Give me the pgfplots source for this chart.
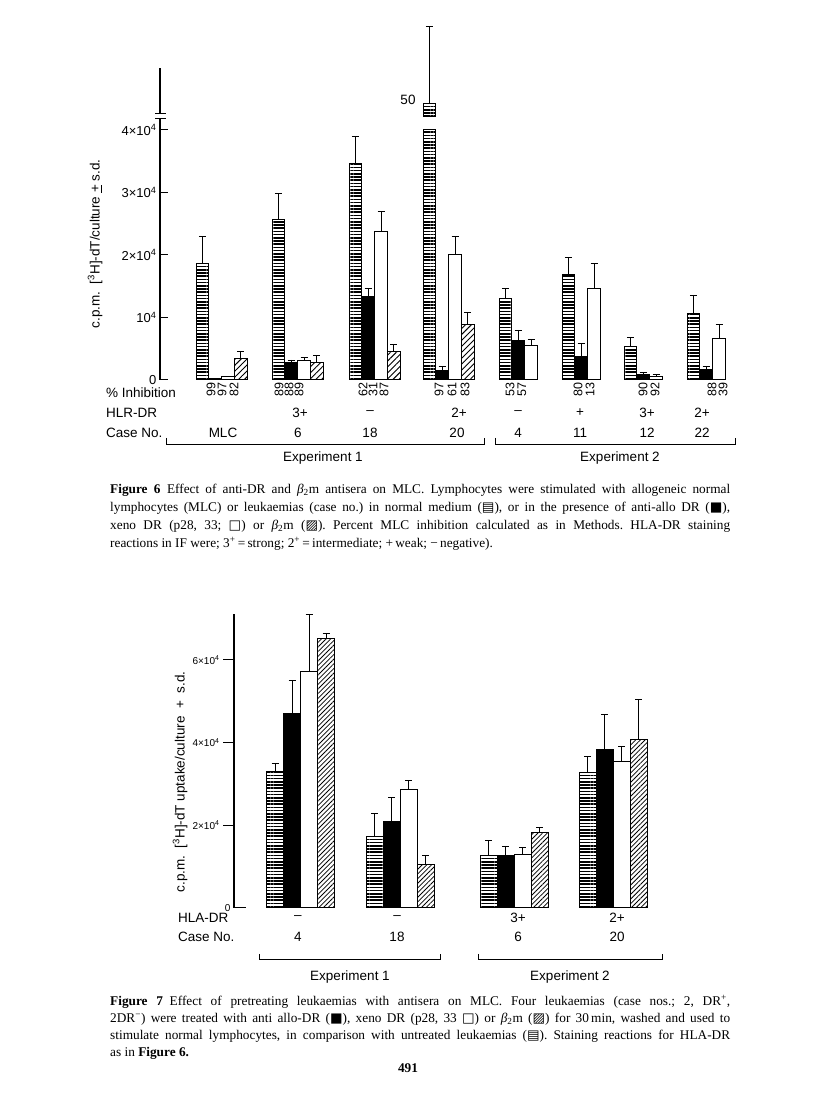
\documentclass[border=0pt]{standalone}
\usepackage{fontspec}
\setmainfont{Liberation Sans}
\newfontfamily\serif{Liberation Serif}
\newfontfamily\sym{DejaVu Sans}
\usepackage{pgfplots}
\pgfplotsset{compat=1.18}
\usetikzlibrary{patterns.meta}

\tikzset{
  hl/.style={draw=black, line width=1pt, pattern={Lines[angle=0,distance=3.2pt,line width=1.5pt]}},
  bl/.style={draw=black, line width=1pt, fill=black},
  wh/.style={draw=black, line width=1pt, fill=white},
  ha/.style={draw=black, line width=1pt, pattern={Lines[angle=45,distance=4.2pt,line width=0.9pt]}},
  ha7/.style={draw=black, line width=1pt, pattern={Lines[angle=45,distance=3.3pt,line width=0.8pt]}},
  lab/.style={font=\fontsize{13.5}{15}\selectfont, inner sep=0pt},
  num/.style={font=\fontsize{12.5}{14}\selectfont, inner sep=0pt, rotate=90},
}
\pgfplotsset{
  eb/.style={error bars/y dir=plus, error bars/y explicit,
    error bars/error bar style={line width=0.9pt, black, solid},
    error bars/error mark options={rotate=90, line width=0.9pt, mark size=3.5pt, black, solid}},
  bar6/.style={ybar, bar width=12.8, bar shift=0pt},
  bar7/.style={ybar, bar width=17, bar shift=0pt},
}

\begin{document}
\begin{tikzpicture}[x=1pt,y=1pt]
\path[use as bounding box] (0,0) rectangle (816,1105);

% ---------------- Figure 6 ----------------
\begin{axis}[
  at={(160pt,725pt)}, anchor=south west,
  scale only axis, width=580pt, height=312.5pt,
  xmin=160, xmax=740, ymin=0, ymax=5,
  clip=false, axis line style={draw=none},
  xtick=\empty, ytick pos=left,
  ytick={0,1,2,3,4},
  yticklabels={0,10\textsuperscript{4},2×10\textsuperscript{4},3×10\textsuperscript{4},4×10\textsuperscript{4}},
  tick align=inside, major tick length=8pt,
  tick style={line width=1pt, black},
  yticklabel style={font=\fontsize{13}{13}\selectfont},
]
\addplot[hl, bar6, eb] coordinates {
  (202.4,1.87) +- (0,0.43)
  (278.4,2.57) +- (0,0.42)
  (355.4,3.47) +- (0,0.43)
  (505.4,1.31) +- (0,0.16)
  (568.4,1.68) +- (0,0.28)
  (630.4,0.54) +- (0,0.14)
  (693.4,1.07) +- (0,0.29)
};
% case 20: value 50 x 10^3, drawn broken
\addplot[hl, bar6] coordinates {(429.4,4.00)};
\addplot[hl] coordinates {(423,4.21) (435.8,4.21) (435.8,4.43) (423,4.43)} -- cycle;
\addplot[black, line width=0.9pt, mark=none, eb] coordinates {(429.4,4.43) +- (0,1.22)};
\addplot[bl, bar6, eb] coordinates {
  (215.2,0.02) +- (0,0)
  (291.2,0.28) +- (0,0.04)
  (368.2,1.34) +- (0,0.13)
  (442.2,0.15) +- (0,0.06)
  (518.2,0.63) +- (0,0.17)
  (581.2,0.37) +- (0,0.21)
  (643.2,0.08) +- (0,0.04)
  (706.2,0.17) +- (0,0.04)
};
\addplot[wh, bar6, eb] coordinates {
  (228,0.05) +- (0,0)
  (304,0.31) +- (0,0.05)
  (381,2.38) +- (0,0.31)
  (455,2.00) +- (0,0.29)
  (531,0.55) +- (0,0.10)
  (594,1.47) +- (0,0.39)
  (656,0.05) +- (0,0.04)
  (719,0.67) +- (0,0.22)
};
\addplot[ha, bar6, eb] coordinates {
  (240.8,0.35) +- (0,0.10)
  (316.8,0.28) +- (0,0.11)
  (393.8,0.46) +- (0,0.11)
  (467.8,0.88) +- (0,0.20)
};
% broken y axis
\draw[line width=1.2pt] (axis cs:160,0) -- (axis cs:160,4.18);
\draw[line width=1.2pt] (axis cs:160,4.27) -- (axis cs:160,4.99);
\draw[line width=1.2pt] (axis cs:155,4.18) -- (axis cs:166,4.18);
\draw[line width=1.2pt] (axis cs:155,4.27) -- (axis cs:166,4.27);
\end{axis}

\node[lab, rotate=90] at (95,{1105-244}) {c.p.m.\ \ [\textsuperscript{3}H]-dT/culture \underline{+} s.d.};
\node[lab] at (408,{1105-100}) {50};
\node[lab, anchor=west] at (106,{1105-393}) {\% Inhibition};
\node[lab, anchor=west] at (106,{1105-413}) {HLR-DR};
\node[lab, anchor=west] at (106,{1105-433}) {Case No.};
\foreach \x/\t in {211/99, 222/97, 234/82, 279/89, 289/88, 299/89, 363/62, 373/31, 384/87,
  439/97, 452/61, 465/83, 510/53, 522/57, 578/80, 590/13, 643/90, 655/92, 712/88, 723/39}
  \node[num] at (\x,{1105-390}) {\t};
\foreach \x/\t in {300/3+, 370/–, 459/2+, 518/–, 580/+, 647/3+, 702/2+}
  \node[lab] at (\x,{1105-413}) {\t};
\foreach \x/\t in {223/MLC, 298/6, 370/18, 457/20, 518/4, 580/11, 647/12, 702/22}
  \node[lab] at (\x,{1105-433}) {\t};
\draw[line width=1pt] (166,{1105-438}) -- (166,{1105-445}) -- (484,{1105-445}) -- (484,{1105-438});
\draw[line width=1pt] (495,{1105-438}) -- (495,{1105-445}) -- (735,{1105-445}) -- (735,{1105-438});
\node[lab] at (323,{1105-458}) {Experiment 1};
\node[lab] at (620,{1105-458}) {Experiment 2};

\node[anchor=north west, inner sep=0pt] at (110,{1105-484}) {\parbox{620pt}{\serif\frenchspacing\fontsize{13.3}{18}\selectfont
\textbf{Figure 6}\enspace Effect of anti-DR and \textit{β}\textsubscript{2}m antisera on MLC. Lymphocytes were stimulated with allogeneic normal\linebreak
lymphocytes (MLC) or leukaemias (case no.) in normal medium ({\sym ▤}), or in the presence of anti-allo DR ({\sym ■}),\linebreak
xeno DR (p28, 33; {\sym □}) or \textit{β}\textsubscript{2}m ({\sym ▨}). Percent MLC inhibition calculated as in Methods. HLA-DR staining\linebreak
reactions in IF were; 3\textsuperscript{+}\,=\,strong; 2\textsuperscript{+}\,=\,intermediate; +\,weak; −\,negative).}};

% ---------------- Figure 7 ----------------
\begin{axis}[
  at={(234pt,197pt)}, anchor=south west,
  scale only axis, width=426pt, height=293.9pt,
  xmin=234, xmax=660, ymin=0, ymax=7.11,
  clip=false, axis line style={draw=none},
  xtick=\empty, ytick pos=left,
  ytick={2,4,6},
  yticklabels={2×10\textsuperscript{4},4×10\textsuperscript{4},6×10\textsuperscript{4}},
  extra y ticks={0}, extra y tick labels={0},
  extra y tick style={tick align=inside, major tick length=12pt},
  tick align=outside, major tick length=11pt,
  tick style={line width=1pt, black},
  yticklabel style={font=\fontsize{10}{10}\selectfont},
]
\addplot[hl, bar7, eb] coordinates {
  (275.2,3.29) +- (0,0.21)
  (374.5,1.72) +- (0,0.56)
  (488.5,1.28) +- (0,0.36)
  (587.5,3.28) +- (0,0.39)
};
\addplot[bl, bar7, eb] coordinates {
  (292.2,4.70) +- (0,0.80)
  (391.5,2.10) +- (0,0.58)
  (505.5,1.28) +- (0,0.22)
  (604.5,3.84) +- (0,0.85)
};
\addplot[wh, bar7, eb] coordinates {
  (309.2,5.72) +- (0,1.38)
  (408.5,2.87) +- (0,0.22)
  (522.5,1.30) +- (0,0.17)
  (621.5,3.55) +- (0,0.36)
};
\addplot[ha7, bar7, eb] coordinates {
  (326.2,6.52) +- (0,0.12)
  (425.5,1.06) +- (0,0.22)
  (539.5,1.83) +- (0,0.11)
  (638.5,4.08) +- (0,0.97)
};
\draw[line width=1.2pt] (axis cs:234,0) -- (axis cs:234,7.11);
\end{axis}

\node[lab, rotate=90] at (180,{1105-782}) {c.p.m.\ \ [\textsuperscript{3}H]-dT uptake/culture \ + \ s.d.};
\node[lab, anchor=west] at (178,{1105-918}) {HLA-DR};
\node[lab, anchor=west] at (178,{1105-937}) {Case No.};
\foreach \x/\t in {298/–, 397/–, 518/3+, 617/2+}
  \node[lab] at (\x,{1105-918}) {\t};
\foreach \x/\t in {298/4, 397/18, 518/6, 617/20}
  \node[lab] at (\x,{1105-937}) {\t};
\draw[line width=1pt] (259,{1105-954}) -- (259,{1105-960}) -- (440,{1105-960}) -- (440,{1105-954});
\draw[line width=1pt] (478,{1105-954}) -- (478,{1105-960}) -- (662,{1105-960}) -- (662,{1105-954});
\node[lab] at (350,{1105-977}) {Experiment 1};
\node[lab] at (570,{1105-977}) {Experiment 2};

\node[anchor=north west, inner sep=0pt] at (110,{1105-995}) {\parbox{620pt}{\serif\frenchspacing\fontsize{13.3}{17}\selectfont
\textbf{Figure 7}\enspace Effect of pretreating leukaemias with antisera on MLC. Four leukaemias (case nos.; 2, DR\textsuperscript{+},\linebreak
2DR\textsuperscript{−}) were treated with anti allo-DR ({\sym ■}), xeno DR (p28, 33 {\sym □}) or \textit{β}\textsubscript{2}m ({\sym ▨}) for 30\,min, washed and used to\linebreak
stimulate normal lymphocytes, in comparison with untreated leukaemias ({\sym ▤}). Staining reactions for HLA-DR\linebreak
as in \textbf{Figure 6.}}};

\node[inner sep=0pt, font=\serif\bfseries\fontsize{13.3}{15}\selectfont] at (408,{1105-1068}) {491};
\end{tikzpicture}
\end{document}
